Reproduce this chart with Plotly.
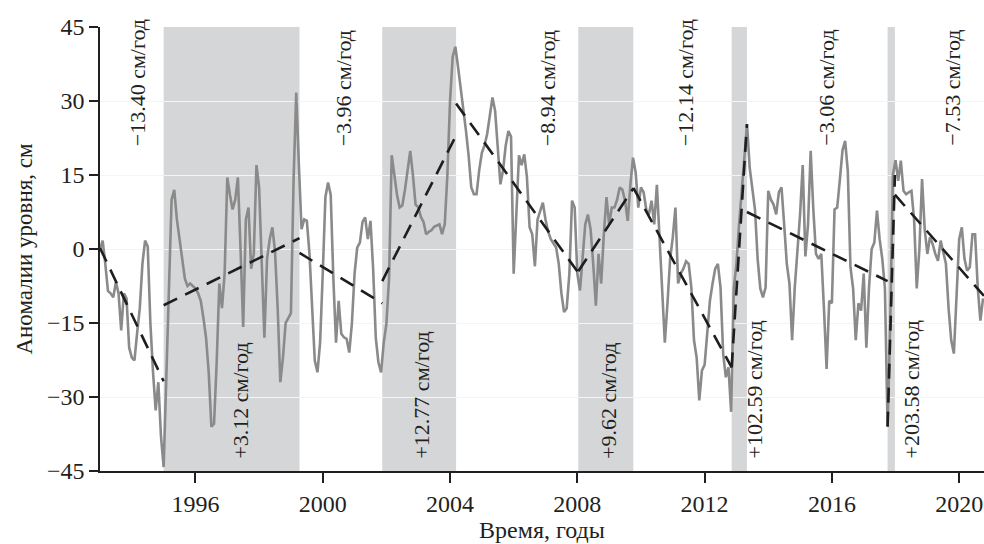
import plotly.graph_objects as go
import numpy as np

# ---- data (monthly sea-level anomalies, cm), starting January 1993 ----
start_year = 1993
level = [
    # 1993
    0, 1.7, -3, -8.5, -9, -9.8, -6.7, -9, -16.5, -9, -10, -20,
    # 1994
    -22, -22.6, -17, -12, -3, 1.7, 0.5, -15, -25, -32.7, -27, -38,
    # 1995
    -44.2, -25, -5, 10, 12, 6, 2, -2.4, -6, -7.5, -7, -7.5,
    # 1996
    -8, -9, -10.5, -14, -18, -25, -36, -35.4, -23, -7, -12, -5,
    # 1997
    14.5, 11, 8, 10, 14.5, 0, -15.8, 6, 8.4, -4, -1, 17,
    # 1998
    12.5, -3, -18, -2, 2, 4.4, -0.5, -12, -27, -22, -15, -14,
    # 1999
    -13, 14, 31.7, 17, 4, 6, 5.7, -1, -12, -22.6, -25, -19,
    # 2000
    -5, 10.5, 13.5, 11, -6, -19, -10.5, -17.2, -17.9, -18.2, -21, -15,
    # 2001
    -5, 0.3, 1.3, 5.5, 6.4, 2, 5.7, -4, -18, -23, -25, -19,
    # 2002
    -15.2, -6, 19, 15, 11, 8.4, 8.8, 12, 16, 19.9, 15, 9,
    # 2003
    8.5, 6.5, 5.5, 3, 3.5, 3.8, 4.5, 4.7, 5, 3, 5, 15,
    # 2004
    30, 39, 41, 37, 33, 28, 24, 19, 12.5, 11.1, 11.1, 16,
    # 2005
    19.5, 21, 23.3, 27, 30.7, 28, 20, 13.1, 16, 21, 23.9, 22.8,
    # 2006
    -5, 5.7, 19, 17, 19.2, 14.5, 4.4, 3, -3.5, 6, 7.5, 9.4,
    # 2007
    6, 3.5, 2, 1, 0.3, -3, -9, -12.8, -12, -5, 9.8, 8.4,
    # 2008
    -5, -8.4, -2, 5, 7, 4, -3, -11.5, -1, -7, 3, 10.5,
    # 2009
    5, 8.4, 8.4, 10, 12.5, 12, 9.8, 5.7, 13, 18.5, 15.5, 8.4,
    # 2010
    12.5, 11.5, 8, 7, 9.8, 5, 13, 3, -7.8, -19, -11, -2,
    # 2011
    2.4, 8.4, -7, -5, -4, -2.5, -3, -7.8, -18.5, -22, -30.7, -24.6,
    # 2012
    -23.5, -17, -10.5, -7, -4, -3, -7.8, -21.2, -26, -24, -33, -8,
    # 2013
    -3, 5, 12, 20, 25.3, 16.5, 12, 8, -2, -8, -9.8, -7.8,
    # 2014
    11.8, 10, 9, 7, 11.5, 12.5, 5, -3, -7, -18.5, -7.8, -1,
    # 2015
    7, 17, -1.5, 5, 19.9, 8, -1, -2, -1, -12, -24.3, -10.5,
    # 2016
    -11, 8, 8.4, 14, 20, 21.9, 15.8, -3.7, -8, -18.5, -11, -12.5,
    # 2017
    -5, -20, -7.8, 0, 1.3, 7.8, 2, -2, -8, -36, -15, 15,
    # 2018
    18, 13.8, 17.9, 11.8, 11.1, 11.5, 11.8, 6, -8, 0, 14.2, 4,
    # 2019
    -1, 2.4, 1, -1, -2.4, 1.7, -1, -3, -12, -18.5, -21.2, -10.5,
    # 2020
    2, 4.4, -2, -4.4, -3.7, 3, 3, -7.8, -14.5, -10,
]
t = start_year + np.arange(len(level)) / 12.0

# ---- piecewise linear trends ----
trend_x0 = [1993.0, 1995.0, 1999.27, 2001.87, 2004.19, 2008.03, 2009.76, 2012.85, 2013.33, 2017.75, 2017.98]
trend_x1 = [1995.0, 1999.27, 2001.87, 2004.19, 2008.03, 2009.76, 2012.85, 2013.33, 2017.75, 2017.98, 2020.78]
trend_y0 = [0.2, -11.4, -0.8, -6.5, 29.5, -4.5, 12.4, -24.0, 7.5, -36.0, 11.0]
trend_y1 = [-26.8, 2.2, -11.0, 23.0, -4.8, 12.3, -24.0, 25.3, -6.5, 15.0, -9.5]

# ---- growth periods (shaded) ----
shade_x0 = [1995.0, 2001.87, 2008.03, 2012.85, 2017.75]
shade_x1 = [1999.27, 2004.19, 2009.76, 2013.33, 2017.98]

# ---- rate labels ----
neg_labels = ["−13.40 см/год", "−3.96 см/год", "−8.94 см/год", "−12.14 см/год", "−3.06 см/год", "−7.53 см/год"]
neg_x = [1994.16, 2000.65, 2007.09, 2011.38, 2015.84, 2019.80]
pos_labels = ["+3.12 см/год", "+12.77 см/год", "+9.62 см/год", "+102.59 см/год", "+203.58 см/год"]
pos_x = [1997.43, 2003.10, 2008.97, 2013.58, 2018.51]

y_ticks = [-45, -30, -15, 0, 15, 30, 45]
x_ticks = [1996, 2000, 2004, 2008, 2012, 2016, 2020]

FONT = "Liberation Serif, Times New Roman, Times, serif"
TXT = "#231f20"

fig = go.Figure()

fig.add_trace(go.Scatter(x=t, y=level, mode="lines",
                         line=dict(color="#8a8a8a", width=2.6),
                         hoverinfo="skip", showlegend=False))

tx, ty = [], []
for a, b, c, d in zip(trend_x0, trend_x1, trend_y0, trend_y1):
    tx += [a, b, None]
    ty += [c, d, None]
fig.add_trace(go.Scatter(x=tx, y=ty, mode="lines",
                         line=dict(color="#1e1e1e", width=2.6, dash="15px,9px"),
                         hoverinfo="skip", showlegend=False))

shapes = []
for a, b in zip(shade_x0, shade_x1):
    shapes.append(dict(type="rect", xref="x", yref="y domain", x0=a, x1=b, y0=0, y1=1,
                       fillcolor="#d5d6d8", line=dict(width=0), layer="below"))

annotations = []
for s, x in zip(neg_labels, neg_x):
    annotations.append(dict(text=s, x=x, y=20.5, xref="x", yref="y", textangle=-90,
                            xanchor="center", yanchor="bottom", showarrow=False,
                            font=dict(family=FONT, size=22, color=TXT)))
for s, x in zip(pos_labels, pos_x):
    annotations.append(dict(text=s, x=x, y=-42.9, xref="x", yref="y", textangle=-90,
                            xanchor="center", yanchor="bottom", showarrow=False,
                            font=dict(family=FONT, size=22, color=TXT)))

fig.update_layout(
    template="none",
    width=984, height=544,
    margin=dict(l=100, r=0, t=27, b=73, autoexpand=False),
    paper_bgcolor="white", plot_bgcolor="white",
    font=dict(family=FONT, size=23, color=TXT),
    shapes=shapes, annotations=annotations,
    xaxis=dict(range=[1993.0, 2020.78], tickvals=x_ticks, ticktext=[str(v) for v in x_ticks],
               automargin=False,
               showgrid=False, zeroline=False, showline=True, linecolor="#231f20", linewidth=1.5,
               ticks="outside", ticklen=10, tickwidth=1.5, tickcolor="#231f20",
               tickfont=dict(family=FONT, size=24, color=TXT),
               title=dict(text="Время, годы", font=dict(family=FONT, size=24, color=TXT), standoff=4)),
    yaxis=dict(range=[-45, 45], tickvals=y_ticks, automargin=False,
               showgrid=True, gridcolor="#f4f4f4", gridwidth=1, zeroline=False,
               showline=True, linecolor="#231f20", linewidth=1.5,
               ticks="outside", ticklen=9, tickwidth=1.5, tickcolor="#231f20",
               tickfont=dict(family=FONT, size=24, color=TXT),
               title=dict(text="Аномалии уровня, см", font=dict(family=FONT, size=23, color=TXT), standoff=8)),
)

fig.write_html("out.html", config={"displayModeBar": False},
               post_script="document.body.style.margin='0';document.body.style.padding='0';")
